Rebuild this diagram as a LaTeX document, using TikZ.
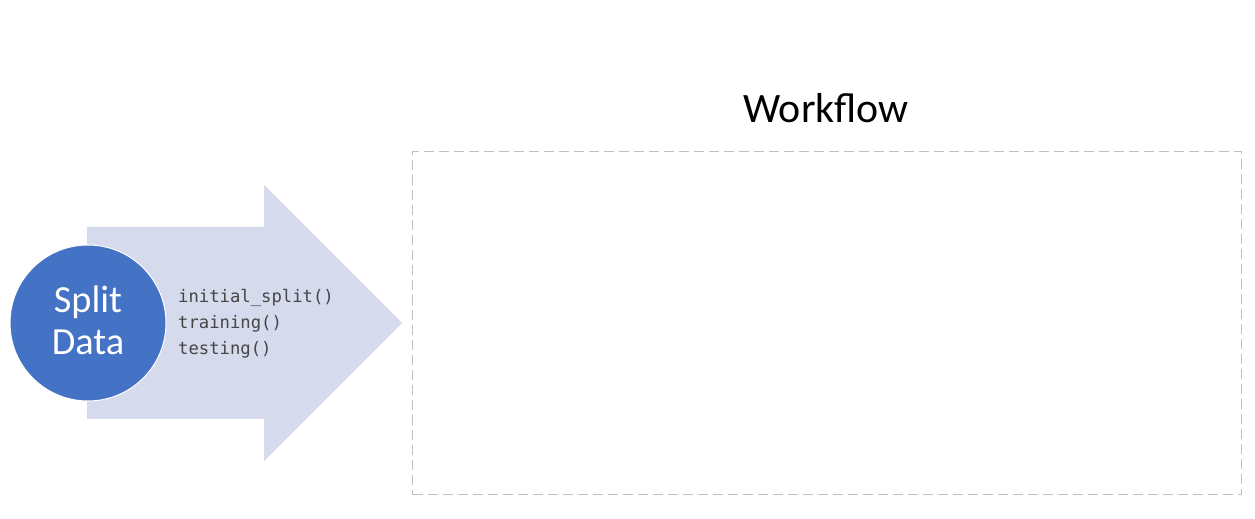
\documentclass[tikz,border=0pt]{standalone}
\usepackage{fontspec}
\setmainfont{Carlito}
\newfontfamily\codefont{DejaVu Sans Mono}
\definecolor{arrowfill}{HTML}{D5DAEC}
\definecolor{circfill}{HTML}{4472C4}
\definecolor{codegray}{HTML}{464646}
\definecolor{dashgray}{HTML}{BFBFBF}
\tikzset{
  bigarrow/.style={fill=arrowfill, draw=none},
  stagecircle/.style={circle, fill=circfill, draw=white, line width=1bp, minimum size=156bp, inner sep=0pt},
  stagetext/.style={inner sep=0pt, text=white, align=center, font=\fontsize{38.5}{43}\selectfont},
  codetext/.style={anchor=base west, align=left, inner sep=0pt, text=codegray,
    font=\codefont\fontsize{17.3}{26.5}\selectfont},
  titletext/.style={anchor=base, inner sep=0pt, font=\fontsize{42}{50}\selectfont},
  dashbox/.style={draw=dashgray, line width=1bp, dash pattern=on 10bp off 5bp}
}
\begin{document}
\begin{tikzpicture}[x=1bp, y=-1bp]
\useasboundingbox (0,0) rectangle (1255,519);
\path[bigarrow] (87,227) -- (264,227) -- (264,185) -- (402,323) -- (264,461) -- (264,419) -- (87,419) -- cycle;
\node[stagecircle] (split) at (88,323) {};
\node[stagetext, anchor=base] (splitlabel) at (88,355) {Split\\Data};
\node[codetext] (code) at (178,355) {initial\_split()\\training()\\testing()};
\node[titletext] (title) at (826,123) {Workflow};
\node[dashbox, minimum width=829bp, minimum height=343bp, anchor=north west, inner sep=0pt] (wf) at (412,151) {};
\end{tikzpicture}
\end{document}
